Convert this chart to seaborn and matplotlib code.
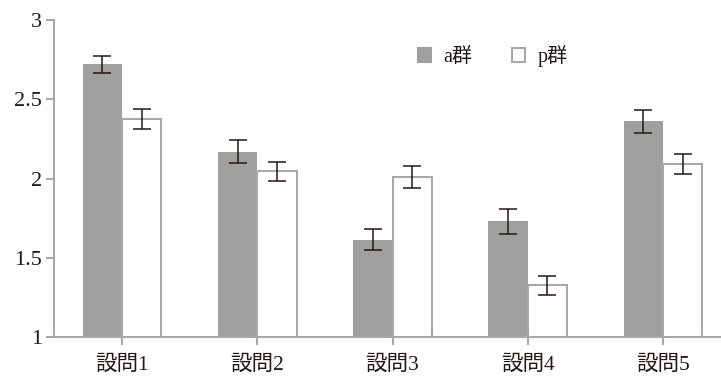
import pandas as pd
import matplotlib
matplotlib.use('Agg')
import matplotlib.pyplot as plt
import seaborn as sns

# データ
questions = ['設問1', '設問2', '設問3', '設問4', '設問5']
groups = ['a群', 'p群']
a_mean = [2.72, 2.17, 1.615, 1.73, 2.36]
a_err = [0.052, 0.07, 0.066, 0.08, 0.072]
p_mean = [2.375, 2.045, 2.01, 1.325, 2.09]
p_err = [0.065, 0.06, 0.068, 0.058, 0.063]

df = pd.DataFrame({
    'question': questions * 2,
    'group': [groups[0]] * 5 + [groups[1]] * 5,
    'mean': a_mean + p_mean,
    'err': a_err + p_err,
})

sns.set_style('ticks')
plt.rcParams['font.family'] = ['Liberation Serif', 'Noto Sans CJK JP']

grey = '#a0a09f'
line_grey = '#a8a8a8'
ink = '#231815'

fig = plt.figure(figsize=(7.21, 3.76), dpi=100)
ax = fig.add_axes([54.5 / 721, 39 / 376, 676 / 721, 317 / 376])

sns.barplot(
    data=df, x='question', y='mean', hue='group',
    order=questions, hue_order=groups,
    palette={'a群': grey, 'p群': 'white'},
    width=0.58, gap=0, errorbar=None, ax=ax,
    saturation=1,
)

# 棒の枠線
for cont, g in zip(ax.containers, groups):
    for bar in cont:
        if g == 'p群':
            bar.set_edgecolor(line_grey)
            bar.set_linewidth(1.5)
        else:
            bar.set_edgecolor(grey)
            bar.set_linewidth(0)

# 誤差線
for cont, g in zip(ax.containers, groups):
    sub = df[df['group'] == g]
    xs = [b.get_x() + b.get_width() / 2 for b in cont]
    ax.errorbar(xs, sub['mean'].values, yerr=sub['err'].values, fmt='none',
                ecolor=ink, elinewidth=1.1, capsize=6.5, capthick=1.1,
                zorder=5)

ax.set_ylim(1, 3)
ax.set_xlim(-0.5, 4.5)
ax.set_yticks([1, 1.5, 2, 2.5, 3])
ax.set_yticklabels(['1', '1.5', '2', '2.5', '3'])
ax.set_xlabel('')
ax.set_ylabel('')

sns.despine(ax=ax)
for s in ['left', 'bottom']:
    ax.spines[s].set_color(line_grey)
    ax.spines[s].set_linewidth(1.5)
ax.spines['bottom'].set_zorder(6)

ax.tick_params(axis='both', which='major', direction='out', length=6, width=1.5,
               color=line_grey, labelcolor=ink, bottom=True, left=True)
ax.tick_params(axis='y', labelsize=16, pad=3)
ax.tick_params(axis='x', labelsize=15.5, pad=7)

handles, labels = ax.get_legend_handles_labels()
handles[0].set_edgecolor(grey)
handles[0].set_linewidth(1.5)
handles[1].set_edgecolor(line_grey)
handles[1].set_linewidth(1.5)
ax.legend(handles, labels, ncol=2, frameon=False, fontsize=14.5,
          loc='upper left', bbox_to_anchor=(0.537, 0.92), borderaxespad=0,
          borderpad=0, handlelength=0.68, handleheight=0.68,
          handletextpad=0.6, columnspacing=1.95, labelcolor=ink)

fig.savefig('out.png', dpi=100)
